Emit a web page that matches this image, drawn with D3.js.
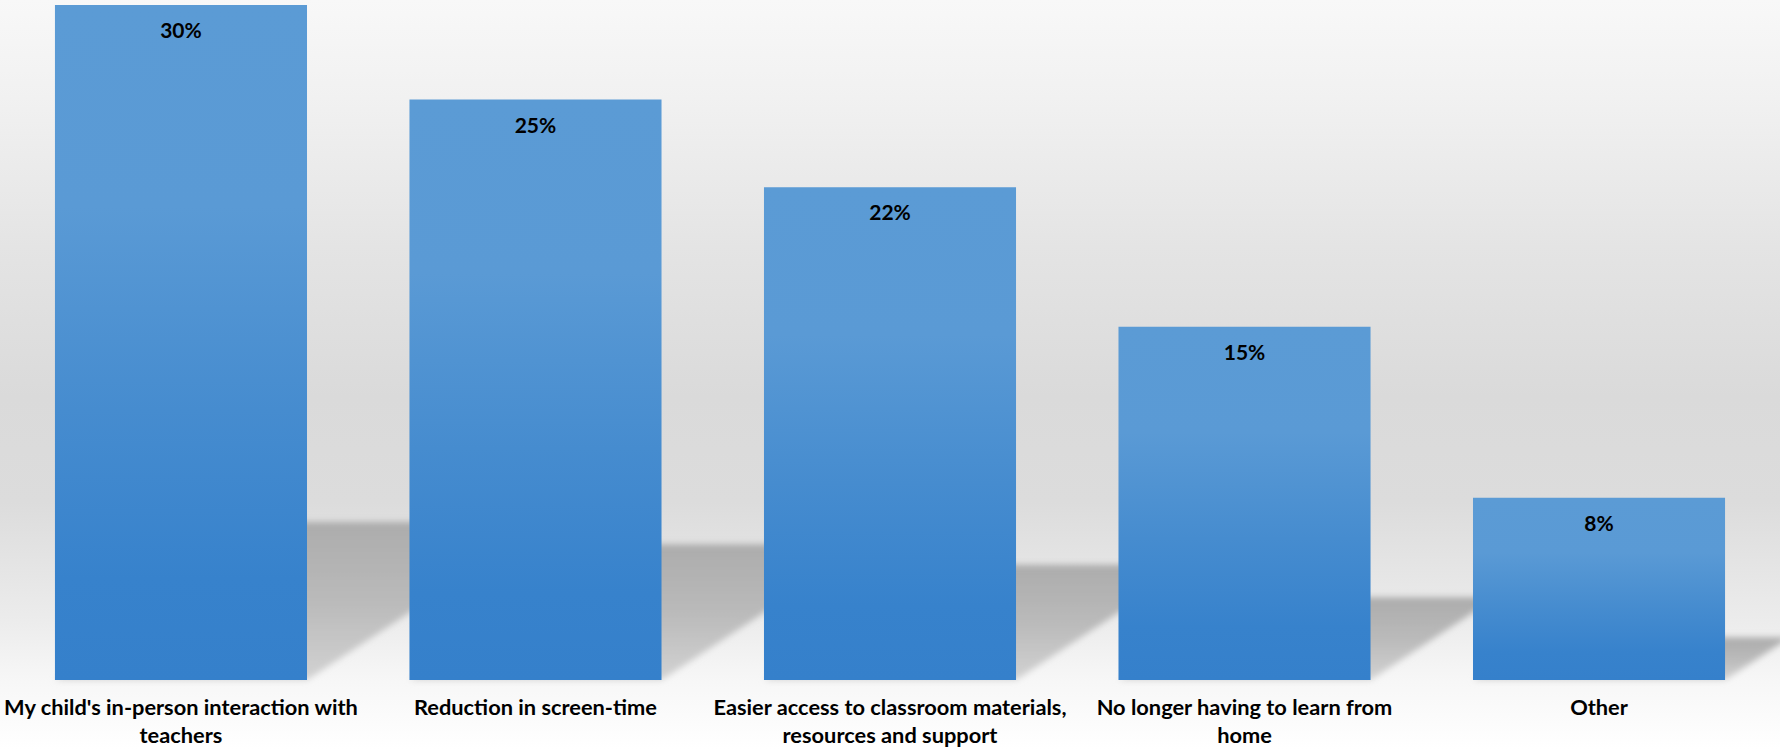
<!DOCTYPE html>
<html>
<head>
<meta charset="utf-8">
<script src="https://cdn.jsdelivr.net/npm/d3@7"></script>
<style>
  html, body { margin: 0; padding: 0; background: #ffffff; }
  svg { display: block; }
</style>
</head>
<body>
<svg id="chart" width="1780" height="749"></svg>
<script>
// ---- data ----
const categories = [
  "My child's in-person interaction with teachers",
  "Reduction in screen-time",
  "Easier access to classroom materials, resources and support",
  "No longer having to learn from home",
  "Other"
];
// category tick labels, as they are wrapped in the picture
const categoryLines = [
  ["My child's in-person interaction with", "teachers"],
  ["Reduction in screen-time"],
  ["Easier access to classroom materials,", "resources and support"],
  ["No longer having to learn from", "home"],
  ["Other"]
];
const values = [30.0, 25.8, 21.9, 15.7, 8.1];
const valueLabels = ["30%", "25%", "22%", "15%", "8%"];

// ---- layout ----
const W = 1780, H = 749;
const baseY = 680, topY = 5;
const svg = d3.select("#chart");
const defs = svg.append("defs");

// background gradient
const bg = defs.append("linearGradient").attr("id", "bgGrad")
  .attr("x1", 0).attr("y1", 0).attr("x2", 0).attr("y2", 1);
[[0, "#f8f8f8"], [0.13, "#f1f1f1"], [0.33, "#e4e4e4"], [0.53, "#dadada"],
 [0.67, "#dcdcdc"], [0.75, "#e4e4e4"], [0.83, "#ececec"], [0.91, "#f7f7f7"], [1, "#ffffff"]]
  .forEach(([o, c]) => bg.append("stop").attr("offset", o).attr("stop-color", c));

// bar gradient
const bgBar = defs.append("linearGradient").attr("id", "barGrad")
  .attr("x1", 0).attr("y1", 0).attr("x2", 0).attr("y2", 1);
[[0, "#5b9bd5"], [0.3, "#5a9ad5"], [0.6, "#468ccf"], [0.85, "#3782cc"], [1, "#3580cb"]]
  .forEach(([o, c]) => bgBar.append("stop").attr("offset", o).attr("stop-color", c));

// shadow gradient + blur
const sg = defs.append("linearGradient").attr("id", "shGrad")
  .attr("x1", 0).attr("y1", 0).attr("x2", 0).attr("y2", 1);
[[0, "#acacac"], [0.5, "#bababa"], [1, "#d2d2d2"]]
  .forEach(([o, c]) => sg.append("stop").attr("offset", o).attr("stop-color", c));
const blur = defs.append("filter").attr("id", "shBlur")
  .attr("x", "-20%").attr("y", "-20%").attr("width", "140%").attr("height", "140%");
blur.append("feGaussianBlur").attr("stdDeviation", 3);

svg.append("rect").attr("width", W).attr("height", H).attr("fill", "url(#bgGrad)");

const x = d3.scaleBand().domain(categories).range([0, W])
  .paddingInner(0.289).paddingOuter(0.155);
const y = d3.scaleLinear().domain([0, d3.max(values)]).range([baseY, topY]);

const data = categories.map((c, i) => ({ cat: c, v: values[i], lab: valueLabels[i], lines: categoryLines[i] }));

// perspective shadows
const skewX = 0.356, squash = 0.234;
svg.append("g").selectAll("path").data(data).join("path")
  .attr("d", d => {
    const x0 = x(d.cat), x1 = x0 + x.bandwidth();
    const h = baseY - y(d.v);
    const dx = h * skewX, ty = baseY - h * squash;
    return `M${x0},${baseY}L${x1},${baseY}L${x1 + dx},${ty}L${x0 + dx},${ty}Z`;
  })
  .attr("fill", "url(#shGrad)")
  .attr("filter", "url(#shBlur)");

// bars
svg.append("g").selectAll("rect").data(data).join("rect")
  .attr("x", d => x(d.cat))
  .attr("y", d => y(d.v))
  .attr("width", x.bandwidth())
  .attr("height", d => baseY - y(d.v))
  .attr("fill", "url(#barGrad)");

// value labels
svg.append("g").selectAll("text").data(data).join("text")
  .attr("x", d => x(d.cat) + x.bandwidth() / 2)
  .attr("y", d => y(d.v) + 33)
  .attr("text-anchor", "middle")
  .attr("font-family", "Lato, 'Open Sans', sans-serif")
  .attr("font-weight", "bold")
  .attr("font-size", 21)
  .attr("fill", "#000")
  .text(d => d.lab);

// category labels
const catG = svg.append("g")
  .attr("font-family", "Lato, 'Open Sans', sans-serif")
  .attr("font-weight", "bold")
  .attr("font-size", 21.8)
  .attr("fill", "#000");
catG.selectAll("text").data(data).join("text")
  .attr("text-anchor", "middle")
  .each(function(d) {
    const cx = x(d.cat) + x.bandwidth() / 2;
    d3.select(this).selectAll("tspan").data(d.lines).join("tspan")
      .attr("x", cx)
      .attr("y", (l, i) => 715 + i * 28)
      .text(l => l);
  });
</script>
</body>
</html>
